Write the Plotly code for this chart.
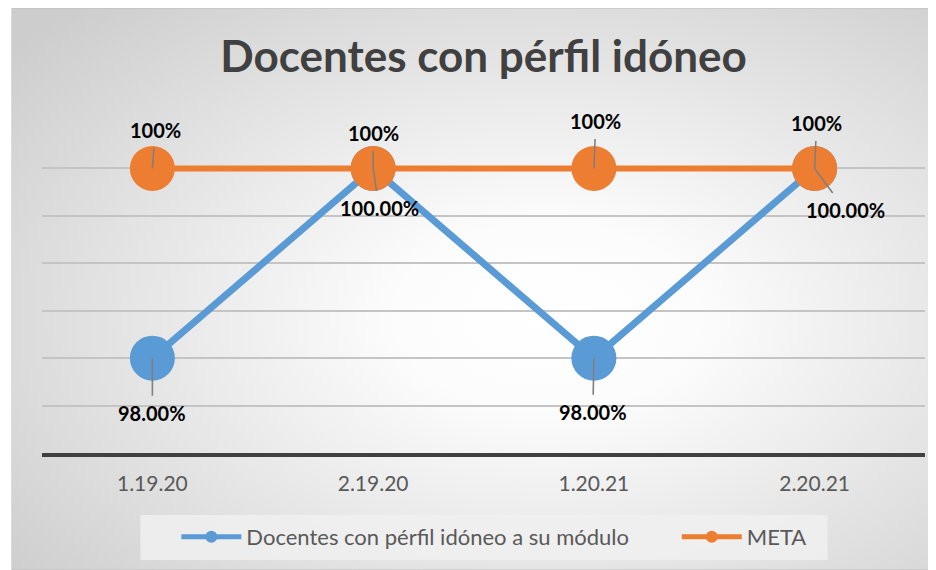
import plotly.graph_objects as go
from urllib.parse import quote

# ---- data ----
categories = ["1.19.20", "2.19.20", "1.20.21", "2.20.21"]
docentes = [98.0, 100.0, 98.0, 100.0]
meta = [100.0, 100.0, 100.0, 100.0]
series_names = ["Docentes con pérfil idóneo a su módulo", "META"]
title_text = "Docentes con pérfil idóneo"

BLUE = "#5B9BD5"
ORANGE = "#ED7D31"
FONT = "Lato"

OFF = 8  # page body margin
W, H = 936 - OFF, 570 - OFF
ML, MR, MT, MB = 41.5 - OFF, 10.5, 121 - OFF, 117
PW = W - ML - MR
PH = H - MT - MB

def px_to_paper_x(px):  # px in screenshot coordinates
    return (px - OFF - ML) / PW

def py_to_paper_y(py):
    return (H - MB - (py - OFF)) / PH

fig = go.Figure()

fig.add_trace(go.Scatter(
    x=categories, y=docentes, name=series_names[0], mode="lines+markers",
    line=dict(color=BLUE, width=7), marker=dict(color=BLUE, size=45),
    hoverinfo="skip", legend="legend",
))
fig.add_trace(go.Scatter(
    x=categories, y=meta, name=series_names[1], mode="lines+markers",
    line=dict(color=ORANGE, width=6), marker=dict(color=ORANGE, size=45),
    hoverinfo="skip", legend="legend2",
))

# data labels with leader lines
meta_offsets = [(3, -38), (0, -35), (2, -47), (2, -45)]
doc_offsets = [(0, 55), (6, 40), (-1, 54), (31, 42)]
label_font = dict(family=FONT, size=20, color="#000000", weight="bold")
annotations = []
for cat, v, (ax, ay) in zip(categories, meta, meta_offsets):
    annotations.append(dict(
        x=cat, y=v, text=f"{v:.0f}%", showarrow=True, arrowhead=0,
        arrowwidth=1.6, arrowcolor="#7f7f7f", ax=ax, ay=ay, borderpad=5,
        font=label_font,
    ))
for cat, v, (ax, ay) in zip(categories, docentes, doc_offsets):
    annotations.append(dict(
        x=cat, y=v, text=f"{v:.2f}%", showarrow=True, arrowhead=0,
        arrowwidth=1.6, arrowcolor="#7f7f7f", ax=ax, ay=ay, borderpad=5,
        font=label_font,
    ))

# radial gradient background (chart area)
svg = (
    '<svg xmlns="http://www.w3.org/2000/svg" viewBox="0 0 100 100" preserveAspectRatio="none">'
    '<defs><radialGradient id="g" cx="0.58" cy="0.55" r="0.75">'
    '<stop offset="0" stop-color="#ffffff"/>'
    '<stop offset="0.22" stop-color="#fcfcfc"/>'
    '<stop offset="1" stop-color="#cdcdcd"/>'
    '</radialGradient></defs>'
    '<rect x="0" y="0" width="100" height="100" fill="url(#g)" stroke="#bdbdbd" '
    'stroke-width="1" vector-effect="non-scaling-stroke"/></svg>'
)
bg_uri = "data:image/svg+xml;charset=utf-8," + quote(svg)
x0 = px_to_paper_x(11)
x1 = px_to_paper_x(936)
y0 = py_to_paper_y(8)
y1 = py_to_paper_y(570)

legend_common = dict(
    orientation="h", xanchor="left", xref="paper",
    y=py_to_paper_y(537), yanchor="middle", yref="paper",
    bgcolor="rgba(0,0,0,0)", itemsizing="constant",
    font=dict(family=FONT, size=22, color="#595959"),
    itemwidth=60,
)

fig.update_layout(
    width=W, height=H,
    margin=dict(l=ML, r=MR, t=MT, b=MB, autoexpand=False),
    paper_bgcolor="#ffffff",
    plot_bgcolor="rgba(0,0,0,0)",
    images=[dict(
        source=bg_uri, xref="paper", yref="paper",
        x=x0, y=y0, sizex=x1 - x0, sizey=y0 - y1,
        xanchor="left", yanchor="top", sizing="stretch", layer="below",
    )],
    shapes=[dict(
        type="rect", xref="paper", yref="paper",
        x0=px_to_paper_x(140), x1=px_to_paper_x(828),
        y0=py_to_paper_y(515), y1=py_to_paper_y(560),
        fillcolor="rgba(240,240,240,0.85)", line=dict(width=0), layer="below",
    )],
    title=dict(
        text=title_text, x=0.5, xref="paper", xanchor="center",
        y=1 - (57 - OFF) / H, yref="container", yanchor="middle",
        font=dict(family=FONT, size=44, color="#404040", weight="bold"),
    ),
    xaxis=dict(
        type="category", range=[-0.5, 3.5], showgrid=False, zeroline=False,
        showline=True, linecolor="#404040", linewidth=4,
        ticks="", ticklabelstandoff=9,
        tickfont=dict(family=FONT, size=21, color="#595959"),
    ),
    yaxis=dict(
        range=[97, 100.5], dtick=0.5, tick0=97, showticklabels=False,
        showgrid=True, gridcolor="#c4c4c4", gridwidth=1.5, zeroline=False,
        showline=False,
    ),
    legend=dict(x=px_to_paper_x(176), **legend_common),
    legend2=dict(x=px_to_paper_x(677), **legend_common),
    annotations=annotations,
    showlegend=True,
)

fig.write_html("out.html")
